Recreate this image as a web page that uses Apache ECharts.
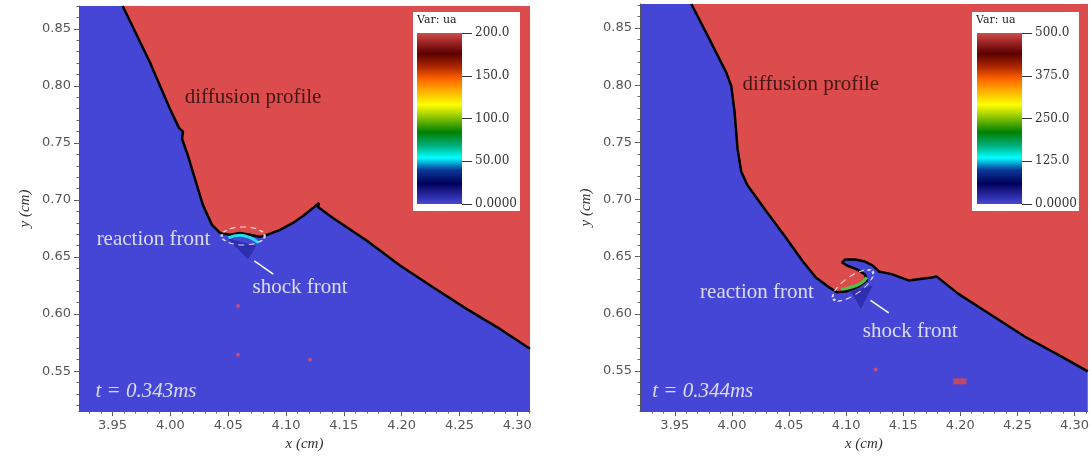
<!DOCTYPE html>
<html>
<head>
<meta charset="utf-8">
<script src="https://cdn.jsdelivr.net/npm/echarts@6/dist/echarts.min.js"></script>
<style>
html, body { margin: 0; padding: 0; background: #fff; }
#chart { width: 1092px; height: 457px; }
</style>
</head>
<body>
<div id="chart"></div>
<script>
let page = document.getElementById('chart');
let chart = echarts.init(page);

const BLUE = '#4646d6';
const RED = '#dd4c4c';

// axis ticks
const xMajor = [3.95, 4.00, 4.05, 4.10, 4.15, 4.20, 4.25, 4.30];
const yMajor = [0.55, 0.60, 0.65, 0.70, 0.75, 0.80, 0.85];
let xMinor = [];
for (let i = 393; i <= 431; i++) xMinor.push(i / 100);
let yMinor = [];
for (let i = 52; i <= 87; i++) yMinor.push(i / 100);

// left panel, t = 0.343ms : interface between blue and red
const leftEdgeX = [3.9588, 3.9824, 3.9997, 4.0075, 4.0109, 4.0101, 4.0152, 4.0230, 4.0282, 4.0360, 4.0429,
    4.0516, 4.0602, 4.0689, 4.0775, 4.0836, 4.0948, 4.1060, 4.1147, 4.1233, 4.1285, 4.1277, 4.1406,
    4.1700, 4.1986, 4.2271, 4.2565, 4.2850, 4.3110];
const leftEdgeY = [0.870, 0.8205, 0.7797, 0.7632, 0.7598, 0.7537, 0.7389, 0.7129, 0.6955, 0.6782, 0.6712,
    0.6695, 0.6712, 0.6695, 0.6677, 0.6695, 0.6738, 0.6799, 0.6860, 0.6929, 0.6973, 0.6938, 0.6842,
    0.6643, 0.6426, 0.6235, 0.6044, 0.5870, 0.5697];
const leftFrontX = [4.0501, 4.0602, 4.0703, 4.0760];
const leftFrontY = [0.6669, 0.6692, 0.6663, 0.6625];
const leftShockX = [4.0487, 4.0746, 4.0671];
const leftShockY = [0.6669, 0.6597, 0.6480];
const leftDotsX = [4.0585, 4.0585, 4.1207];
const leftDotsY = [0.6070, 0.5644, 0.5601];

// right panel, t = 0.344ms
const rightEdgeX = [3.9645, 3.9805, 3.9950, 3.9994, 4.0023, 4.0049, 4.0081, 4.0136, 4.0299, 4.0473, 4.0615,
    4.0735, 4.0850, 4.0920, 4.1007, 4.1112, 4.1182, 4.1165, 4.1095, 4.1007, 4.0964, 4.0990, 4.1077,
    4.1165, 4.1234, 4.1286, 4.1399, 4.1547, 4.1748, 4.1791, 4.1983, 4.2271, 4.2567, 4.2855, 4.3116];
const rightEdgeY = [0.871, 0.8398, 0.8112, 0.7994, 0.7766, 0.7445, 0.7246, 0.7125, 0.6900, 0.6666, 0.6467,
    0.6319, 0.6233, 0.6189, 0.6198, 0.6241, 0.6293, 0.6345, 0.6389, 0.6423, 0.6449, 0.6475, 0.6475,
    0.6458, 0.6423, 0.6371, 0.6348, 0.6293, 0.6319, 0.6328, 0.6175, 0.5990, 0.5800, 0.5644, 0.5497];
const rightFrontX = [4.0955, 4.1042, 4.1129, 4.1182];
const rightFrontY = [0.6216, 0.6233, 0.6268, 0.6320];
const rightShockX = [4.1042, 4.1234, 4.1129];
const rightShockY = [0.6198, 0.6250, 0.6042];
const rightDotsX = [4.1260];
const rightDotsY = [0.5514];
const rightBlockX = [4.1996];
const rightBlockY = [0.5410];

// annotations
const leftNoteText = ['diffusion profile', 'reaction front', 'shock front', 't = 0.343ms'];
const leftNoteX = [4.0715, 3.9854, 4.1121, 3.9789];
const leftNoteY = [0.7901, 0.6651, 0.6235, 0.5323];
const leftPointerX = [4.0726, 4.0890];
const leftPointerY = [0.6466, 0.6350];
const leftRingX = [4.0630];
const leftRingY = [0.6685];

const rightNoteText = ['diffusion profile', 'reaction front', 'shock front', 't = 0.344ms'];
const rightNoteX = [4.0691, 4.0219, 4.1562, 3.9744];
const rightNoteY = [0.8008, 0.6190, 0.5843, 0.5323];
const rightPointerX = [4.1214, 4.1373];
const rightPointerY = [0.6118, 0.6008];
const rightRingX = [4.1060];
const rightRingY = [0.6250];

// colour bars
const leftBarTicks = ['0.0000', '50.00', '100.0', '150.0', '200.0'];
const leftBarMax = 200;
const rightBarTicks = ['0.0000', '125.0', '250.0', '375.0', '500.0'];
const rightBarMax = 500;

const zip = (xs, ys) => xs.map((x, i) => [x, ys[i]]);

function panelAxes(g, xmin, xmax, ymin, ymax) {
    const font = { color: '#555', fontFamily: 'DejaVu Sans', fontSize: 13 };
    const nameFont = { color: '#333', fontFamily: 'Liberation Serif', fontStyle: 'italic', fontSize: 15 };
    return {
        x: [
            {
                type: 'value', gridIndex: g, min: xmin, max: xmax, position: 'bottom',
                axisLine: { show: true, onZero: false, lineStyle: { color: '#555' } },
                axisTick: { show: true, customValues: xMajor, length: 5, lineStyle: { color: '#555' } },
                axisLabel: Object.assign({ customValues: xMajor, margin: 8, formatter: v => v.toFixed(2) }, font),
                splitLine: { show: false },
                name: 'x (cm)', nameLocation: 'middle', nameGap: 20, nameTextStyle: nameFont
            },
            {
                type: 'value', gridIndex: g, min: xmin, max: xmax, position: 'bottom',
                axisLine: { show: false, onZero: false },
                axisTick: { show: true, customValues: xMinor, length: 2.5, lineStyle: { color: '#666' } },
                axisLabel: { show: false },
                splitLine: { show: false }
            }
        ],
        y: [
            {
                type: 'value', gridIndex: g, min: ymin, max: ymax, position: 'left',
                axisLine: { show: true, onZero: false, lineStyle: { color: '#555' } },
                axisTick: { show: true, customValues: yMajor, length: 5, lineStyle: { color: '#555' } },
                axisLabel: Object.assign({ customValues: yMajor, margin: 8, formatter: v => v.toFixed(2) }, font),
                splitLine: { show: false },
                name: 'y (cm)', nameLocation: 'middle', nameRotate: 90, nameGap: 46, nameTextStyle: nameFont
            },
            {
                type: 'value', gridIndex: g, min: ymin, max: ymax, position: 'left',
                axisLine: { show: false, onZero: false },
                axisTick: { show: true, customValues: yMinor, length: 2.5, lineStyle: { color: '#666' } },
                axisLabel: { show: false },
                splitLine: { show: false }
            }
        ]
    };
}

function barAxes(g, max, labels) {
    return {
        x: { type: 'category', gridIndex: g, data: ['ua'], show: false, z: 11 },
        y: {
            type: 'value', gridIndex: g, min: 0, max: max, interval: max / 4, position: 'right', z: 11,
            axisLine: { show: false },
            axisTick: { show: true, length: 10, lineStyle: { color: '#333' } },
            axisLabel: {
                margin: 13, color: '#333', fontFamily: 'DejaVu Serif', fontSize: 12,
                formatter: v => labels[Math.round(v / (max / 4))]
            },
            splitLine: { show: false }
        }
    };
}

const barGradient = new echarts.graphic.LinearGradient(0, 1, 0, 0, [
    { offset: 0.00, color: '#4848d4' },
    { offset: 0.12, color: '#00005a' },
    { offset: 0.20, color: '#0a3a9a' },
    { offset: 0.27, color: '#00ffff' },
    { offset: 0.34, color: '#00b080' },
    { offset: 0.42, color: '#008000' },
    { offset: 0.51, color: '#90c800' },
    { offset: 0.58, color: '#ffff00' },
    { offset: 0.66, color: '#ffb000' },
    { offset: 0.73, color: '#ff6400' },
    { offset: 0.80, color: '#b02800' },
    { offset: 0.88, color: '#5a0000' },
    { offset: 0.95, color: '#a02828' },
    { offset: 1.00, color: '#d24c4c' }
]);

function panelSeries(xi, yi, edge, front, frontColor, shock, dots, notes, pointer, ring, ringRotate) {
    const list = [];
    list.push({
        type: 'line', xAxisIndex: xi, yAxisIndex: yi, data: edge, symbol: 'none', smooth: false,
        lineStyle: { color: '#000', width: 2.5 },
        areaStyle: { color: RED, opacity: 1, origin: 'end' }, z: 2
    });
    list.push({
        type: 'custom', xAxisIndex: xi, yAxisIndex: yi, data: shock, z: 3,
        renderItem: function (params, api) {
            if (params.dataIndex !== 0) return null;
            const pts = shock.map(p => api.coord(p));
            return { type: 'polygon', shape: { points: pts }, style: { fill: '#2a2aa8', opacity: 0.85 } };
        }
    });
    list.push({
        type: 'line', xAxisIndex: xi, yAxisIndex: yi, data: front, symbol: 'none', smooth: true,
        lineStyle: { color: frontColor, width: 3 }, z: 4
    });
    list.push({
        type: 'scatter', xAxisIndex: xi, yAxisIndex: yi, data: dots.pts, symbol: dots.symbol,
        symbolSize: dots.size, itemStyle: { color: '#e0506a' }, z: 4
    });
    list.push({
        type: 'line', xAxisIndex: xi, yAxisIndex: yi, data: pointer, symbol: 'none',
        lineStyle: { color: '#fff', width: 1.5 }, z: 5
    });
    list.push({
        type: 'scatter', xAxisIndex: xi, yAxisIndex: yi, data: ring.pts, symbol: 'circle',
        symbolSize: ring.size, symbolRotate: ringRotate,
        itemStyle: { color: 'rgba(0,0,0,0)', borderColor: '#fff', borderWidth: 1.5, borderType: [4, 3] }, z: 5
    });
    list.push({
        type: 'scatter', xAxisIndex: xi, yAxisIndex: yi, symbolSize: 1, z: 6,
        itemStyle: { color: 'rgba(0,0,0,0)' },
        data: notes.text.map((t, i) => ({
            value: [notes.x[i], notes.y[i]],
            label: {
                show: true, position: 'inside', formatter: t,
                fontFamily: 'Liberation Serif', fontSize: 21,
                fontStyle: i === 3 ? 'italic' : 'normal',
                color: i === 0 ? '#1e0808' : '#ffffff'
            }
        }))
    });
    return list;
}

const L = panelAxes(0, 3.921, 4.311, 0.515, 0.870);
const R = panelAxes(1, 3.9195, 4.3116, 0.515, 0.871);
const LB = barAxes(2, leftBarMax, leftBarTicks);
const RB = barAxes(3, rightBarMax, rightBarTicks);

let series = [];
series = series.concat(panelSeries(0, 0, zip(leftEdgeX, leftEdgeY), zip(leftFrontX, leftFrontY), '#22e0e8',
    zip(leftShockX, leftShockY),
    { pts: zip(leftDotsX, leftDotsY), symbol: 'circle', size: 4 },
    { text: leftNoteText, x: leftNoteX, y: leftNoteY },
    zip(leftPointerX, leftPointerY),
    { pts: zip(leftRingX, leftRingY), size: [43, 18] }, 0));
series = series.concat(panelSeries(2, 2, zip(rightEdgeX, rightEdgeY), zip(rightFrontX, rightFrontY), '#48c848',
    zip(rightShockX, rightShockY),
    { pts: zip(rightDotsX, rightDotsY), symbol: 'circle', size: 4 },
    { text: rightNoteText, x: rightNoteX, y: rightNoteY },
    zip(rightPointerX, rightPointerY),
    { pts: zip(rightRingX, rightRingY), size: [48, 18] }, 35));
series.push({
    type: 'scatter', xAxisIndex: 2, yAxisIndex: 2, data: zip(rightBlockX, rightBlockY),
    symbol: 'rect', symbolSize: [13, 6], itemStyle: { color: '#e04848' }, z: 4
});
series.push({
    type: 'bar', xAxisIndex: 4, yAxisIndex: 4, data: [leftBarMax], barWidth: '100%',
    itemStyle: { color: barGradient }, z: 11
});
series.push({
    type: 'bar', xAxisIndex: 5, yAxisIndex: 5, data: [rightBarMax], barWidth: '100%',
    itemStyle: { color: barGradient }, z: 11
});

let option = {
    animation: false,
    backgroundColor: '#fff',
    grid: [
        { left: 79, top: 6, width: 451, height: 409, show: true, backgroundColor: BLUE, borderWidth: 0 },
        { left: 640, top: 4, width: 450, height: 411, show: true, backgroundColor: BLUE, borderWidth: 0 },
        { left: 417, top: 33, width: 45, height: 171, z: 11 },
        { left: 977, top: 33, width: 45, height: 171, z: 11 }
    ],
    xAxis: L.x.concat(R.x, [LB.x, RB.x]),
    yAxis: L.y.concat(R.y, [LB.y, RB.y]),
    graphic: [
        { type: 'rect', left: 413, top: 12, shape: { width: 107, height: 199 }, style: { fill: '#fff' }, z: 10 },
        { type: 'text', left: 417, top: 15, style: { text: 'Var: ua', fill: '#222', font: '11px "DejaVu Serif"' }, z: 12 },
        { type: 'rect', left: 972, top: 12, shape: { width: 107, height: 199 }, style: { fill: '#fff' }, z: 10 },
        { type: 'text', left: 976, top: 15, style: { text: 'Var: ua', fill: '#222', font: '11px "DejaVu Serif"' }, z: 12 }
    ],
    series: series
};

chart.setOption(option);
</script>
</body>
</html>
